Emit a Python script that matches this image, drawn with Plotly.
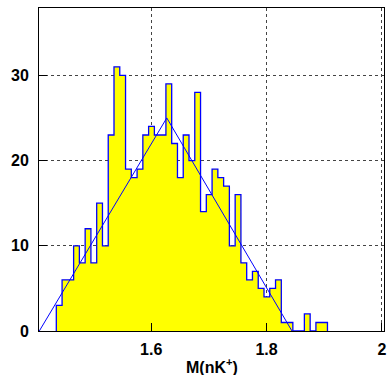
import plotly.graph_objects as go

# Histogram data (bin width 0.01 starting at 1.4355)
bin_start = 1.4355
bin_width = 0.01
counts = [3, 6, 6, 10, 8, 12, 8, 15, 10, 23, 31, 30, 19, 18, 19, 23, 24, 23, 23,
          29, 22, 18, 23, 20, 28, 14, 16, 19, 18, 17, 10, 16, 8, 6, 7, 5, 4, 5, 6,
          1, 1, 0, 0, 2, 0, 1, 1]

# Triangle fit line
tri_x = [1.406, 1.627, 1.844]
tri_y = [0, 25, 0]

x_tickvals = [1.6, 1.8, 2.0]
x_ticktext = ["1.6", "1.8", "2"]
y_tickvals = [0, 10, 20, 30]
y_ticktext = ["0", "10", "20", "30"]

edges = [bin_start + i * bin_width for i in range(len(counts) + 1)]
step_x = [edges[0]] + edges
step_y = [0] + counts + [0]

FONT = "Liberation Sans"

fig = go.Figure()
fig.add_trace(go.Scatter(
    x=step_x, y=step_y, mode="lines", line_shape="hv",
    line=dict(color="#0000ff", width=1.3),
    fill="tozeroy", fillcolor="#ffff00", showlegend=False, hoverinfo="skip"))
fig.add_trace(go.Scatter(
    x=tri_x, y=tri_y, mode="lines",
    line=dict(color="#0000ff", width=1), showlegend=False, hoverinfo="skip"))

axis_common = dict(
    showline=True, linecolor="black", linewidth=1, mirror=True,
    ticks="inside", ticklen=8, tickcolor="black",
    showgrid=True, gridcolor="#444444", griddash="dot", gridwidth=1,
    zeroline=False, automargin=False, ticklabeloverflow="allow",
    tickfont=dict(family=FONT, size=16, color="black", weight="bold"),
)

fig.update_layout(
    template="none",
    width=387, height=375,
    margin=dict(l=39, r=3, t=8, b=44),
    paper_bgcolor="white", plot_bgcolor="white",
    hovermode=False,
    xaxis=dict(range=[1.4055, 2.0035], tickvals=x_tickvals, ticktext=x_ticktext,
               ticklabelstandoff=4, **axis_common),
    yaxis=dict(range=[0, 37.9], tickvals=y_tickvals, ticktext=y_ticktext,
               ticklabelstandoff=6, **axis_common),
    annotations=[dict(
        text="M(nK<sup>+</sup>)", xref="paper", yref="paper",
        x=0.5, y=-0.108, xanchor="center", yanchor="middle", showarrow=False,
        font=dict(family=FONT, size=16, color="black", weight="bold"))],
)

fig.write_html(
    "out.html",
    config={"responsive": False, "displayModeBar": False},
    post_script="document.body.style.margin='0';document.body.style.overflow='hidden';",
)
